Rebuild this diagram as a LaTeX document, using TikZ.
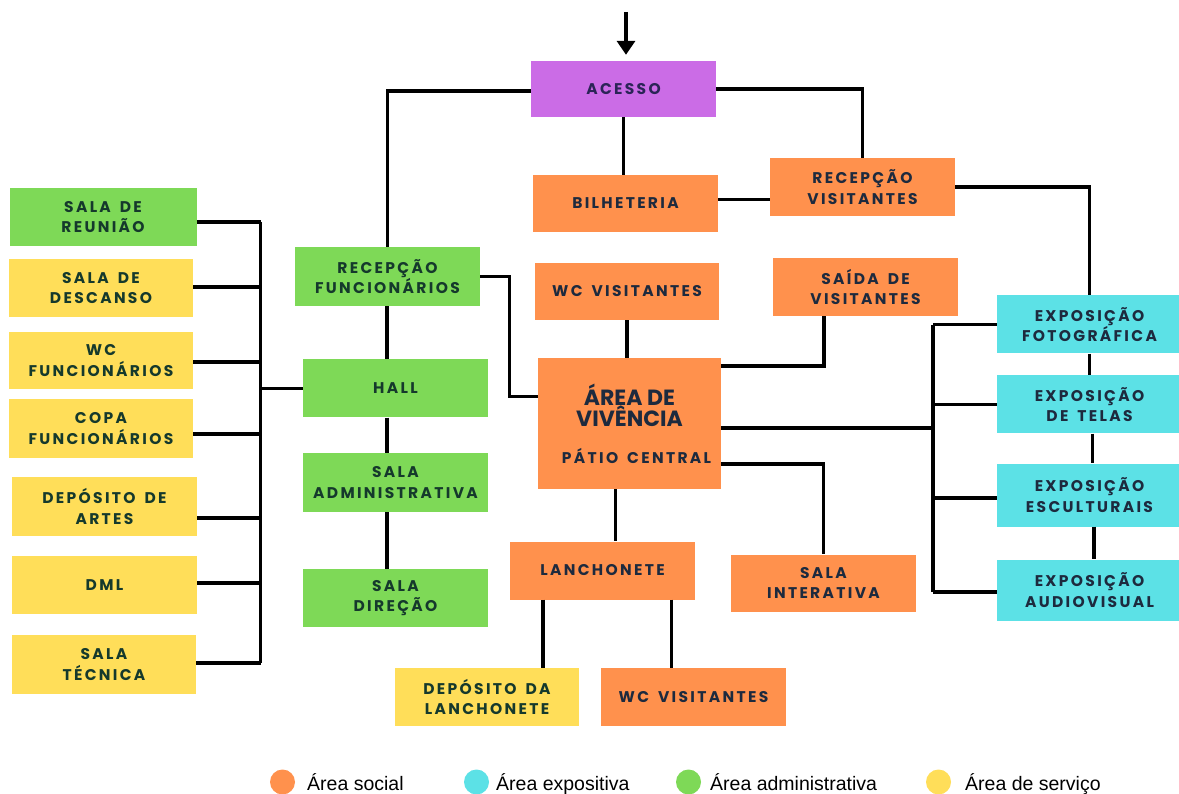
\documentclass[tikz,border=0pt]{standalone}
\usepackage{fontspec}
\usetikzlibrary{arrows.meta}
\newfontfamily\boxfont[LetterSpace=15,WordSpace=1.6]{Poppins}
\newfontfamily\bigfont{Poppins}
\newfontfamily\legfont{Liberation Sans}
\definecolor{cOrange}{HTML}{FF914D}
\definecolor{cGreen}{HTML}{7ED957}
\definecolor{cYellow}{HTML}{FFDE59}
\definecolor{cCyan}{HTML}{5CE1E6}
\definecolor{cPurple}{HTML}{CB6CE6}
\definecolor{tNavy}{HTML}{1D2A3E}
\definecolor{tGreen}{HTML}{15392C}
\definecolor{tPurple}{HTML}{2B2457}
\tikzset{
  box/.style={inner sep=0pt, align=center, minimum width=185pt, minimum height=58pt,
    font=\boxfont\bfseries\fontsize{15.5}{20.5}\selectfont, text=tNavy},
  soc/.style={box, fill=cOrange},
  adm/.style={box, fill=cGreen, text=tGreen},
  srv/.style={box, fill=cYellow, text=tGreen},
  expo/.style={box, fill=cCyan},
  link/.style={line width=3.4pt, black},
  legdot/.style={circle, inner sep=0pt, minimum size=25pt},
  legtxt/.style={anchor=base west, inner sep=0pt, font=\legfont\fontsize{19.5}{24}\selectfont, text=black}
}
\newcommand\bigtxt{\bigfont\bfseries\fontsize{22}{21}\selectfont}
\newcommand\smalltxt{\boxfont\bfseries\fontsize{15.5}{20.5}\selectfont}
\begin{document}
\begin{tikzpicture}[x=1pt,y=-1pt]
\useasboundingbox (0,0) rectangle (1179,794);
\fill[white] (0,0) rectangle (1179,794);
\begin{scope}
\clip (0,0) rectangle (1179,794);
% top
\node[box, fill=cPurple, text=tPurple, minimum height=56pt] (acesso) at (623.5,89) {ACESSO};
\node[soc, minimum height=57pt] (bilheteria) at (625.5,203.5) {BILHETERIA};
\node[soc] (recvis) at (862.5,187) {RECEPÇÃO\\VISITANTES};
\node[adm, minimum height=59pt] (recfunc) at (387.5,276.5) {RECEPÇÃO\\FUNCIONÁRIOS};
\node[soc, minimum height=57pt, minimum width=184pt] (wcvis1) at (627,291.5) {WC VISITANTES};
\node[soc] (saida) at (865.5,287) {SAÍDA DE\\VISITANTES};
% admin column
\node[adm] (hall) at (395.5,388.5) {HALL};
\node[adm, minimum height=59pt] (admin) at (395.5,482.5) {SALA\\ADMINISTRATIVA};
\node[adm] (direcao) at (395.5,598) {SALA\\DIREÇÃO};
% centre
\node[soc, minimum width=183pt, minimum height=131pt] (area) at (629.5,423.5)
  {\bigtxt ÁREA DE\\\bigtxt VIVÊNCIA\\[16pt]\smalltxt\hspace*{14pt}PÁTIO CENTRAL};
\node[soc] (lanch) at (602.5,570.5) {LANCHONETE};
\node[soc, minimum height=57pt] (interativa) at (823.5,583) {SALA\\INTERATIVA};
\node[srv, minimum width=184pt] (deplanch) at (487,697) {DEPÓSITO DA\\LANCHONETE};
\node[soc] (wcvis2) at (693.5,697) {WC VISITANTES};
% left column
\node[adm, minimum width=187pt] (reuniao) at (103,217) {SALA DE\\REUNIÃO};
\node[srv, minimum width=184pt] (descanso) at (101,288) {SALA DE\\DESCANSO};
\node[srv, minimum width=184pt, minimum height=57pt] (wcfunc) at (101,360.5) {WC\\FUNCIONÁRIOS};
\node[srv, minimum width=184pt, minimum height=59pt] (copa) at (101,428.5) {COPA\\FUNCIONÁRIOS};
\node[srv, minimum height=59pt] (departe) at (104.5,506.5) {DEPÓSITO DE\\ARTES};
\node[srv] (dml) at (104.5,585) {DML};
\node[srv, minimum width=184pt, minimum height=59pt] (tecnica) at (104,664.5) {SALA\\TÉCNICA};
% right column
\node[expo] (foto) at (1089.5,324.5) {EXPOSIÇÃO\\FOTOGRÁFICA};
\node[expo] (telas) at (1089.5,404.5) {EXPOSIÇÃO\\DE TELAS};
\node[expo, minimum height=63pt] (escult) at (1089.5,495) {EXPOSIÇÃO\\ESCULTURAIS};
\node[expo, minimum height=61pt] (audio) at (1089.5,590) {EXPOSIÇÃO\\AUDIOVISUAL};
\end{scope}
% bus coordinates
\coordinate (start) at (626,12);
\coordinate (lbusT) at (260.5,222);
\coordinate (lbusB) at (260.5,663);
\coordinate (rbusT) at (933,325);
\coordinate (rbusB) at (933,592);
% arrow
\draw[link, -{Triangle[width=18pt,length=14pt]}, shorten >=6pt] (start) -- (start |- acesso.north);
% acesso links
\draw[link] ([yshift=-2pt]acesso.west) -| (recfunc.north);
\draw[link] (acesso.east) -| (recvis.north);
\draw[link] (acesso.south) -- (acesso.south |- bilheteria.north);
\draw[link] ([yshift=4pt]bilheteria.east) -- ([yshift=4pt]bilheteria.east -| recvis.west);
\draw[link] (recvis.east) -| (foto.north);
% staff side
\draw[link] (recfunc.east) -- ++(29,0) |- ([yshift=27pt]area.west);
\draw[link] ([xshift=-0.5pt]recfunc.south) -- ([xshift=-0.5pt]recfunc.south |- hall.north);
\draw[link] ([xshift=-0.5pt]recfunc.south |- hall.south) -- ([xshift=-0.5pt]recfunc.south |- admin.north);
\draw[link] ([xshift=-0.5pt]recfunc.south |- admin.south) -- ([xshift=-0.5pt]recfunc.south |- direcao.north);
\draw[link] (lbusT) -- (lbusB);
\draw[link] (hall.west) -- (hall.west -| lbusT);
\draw[link] ([yshift=-5pt]reuniao.east) -- ([yshift=-5pt]reuniao.east -| lbusT);
\draw[link] ([yshift=1pt]descanso.east) -- ([yshift=1pt]descanso.east -| lbusT);
\draw[link] ([yshift=-1.5pt]wcfunc.east) -- ([yshift=-1.5pt]wcfunc.east -| lbusT);
\draw[link] ([yshift=-5.5pt]copa.east) -- ([yshift=-5.5pt]copa.east -| lbusT);
\draw[link] ([yshift=-11.5pt]departe.east) -- ([yshift=-11.5pt]departe.east -| lbusT);
\draw[link] ([yshift=2pt]dml.east) -- ([yshift=2pt]dml.east -| lbusT);
\draw[link] ([yshift=1.5pt]tecnica.east) -- ([yshift=1.5pt]tecnica.east -| lbusT);
% visitors side
\draw[link] (wcvis1.south) -- (wcvis1.south |- area.north);
\draw[link] ([yshift=57.5pt]area.east) -| ([xshift=-41.5pt]saida.south);
\draw[link] ([yshift=-4.5pt]area.east) -- ([yshift=-4.5pt]area.east -| rbusT);
\draw[link] ([yshift=-40.5pt]area.east) -| (interativa.north);
\draw[link] ([xshift=-14pt]area.south) -- ([xshift=-14pt]area.south |- lanch.north);
\draw[link] ([xshift=-59.5pt]lanch.south) -- ([xshift=-59.5pt]lanch.south |- deplanch.north);
\draw[link] ([xshift=69pt]lanch.south) -- ([xshift=69pt]lanch.south |- wcvis2.north);
% exposition bus
\draw[link] (rbusT) -- (rbusB);
\draw[link] (foto.west -| rbusT) -- (foto.west);
\draw[link] (telas.west -| rbusT) -- (telas.west);
\draw[link] ([yshift=-3pt]escult.west -| rbusT) -- ([yshift=-3pt]escult.west);
\draw[link] ([yshift=-2pt]audio.west -| rbusT) -- ([yshift=-2pt]audio.west);
\draw[link] (foto.south) -- (telas.north);
\draw[link] ([xshift=3pt]telas.south) -- ([xshift=3pt]escult.north);
\draw[link] ([xshift=4.5pt]escult.south) -- ([xshift=4.5pt]audio.north);
% legend
\node[legdot, fill=cOrange] (lsoc) at (282.5,782) {};
\node[legtxt] (lsoct) at (307,790) {Área social};
\node[legdot, fill=cCyan] (lexp) at (476.5,782) {};
\node[legtxt] (lexpt) at (496,790) {Área expositiva};
\node[legdot, fill=cGreen] (ladm) at (688.5,782) {};
\node[legtxt] (ladmt) at (710,790) {Área administrativa};
\node[legdot, fill=cYellow] (lsrv) at (938.5,782) {};
\node[legtxt] (lsrvt) at (965,790) {Área de serviço};
\end{tikzpicture}
\end{document}
